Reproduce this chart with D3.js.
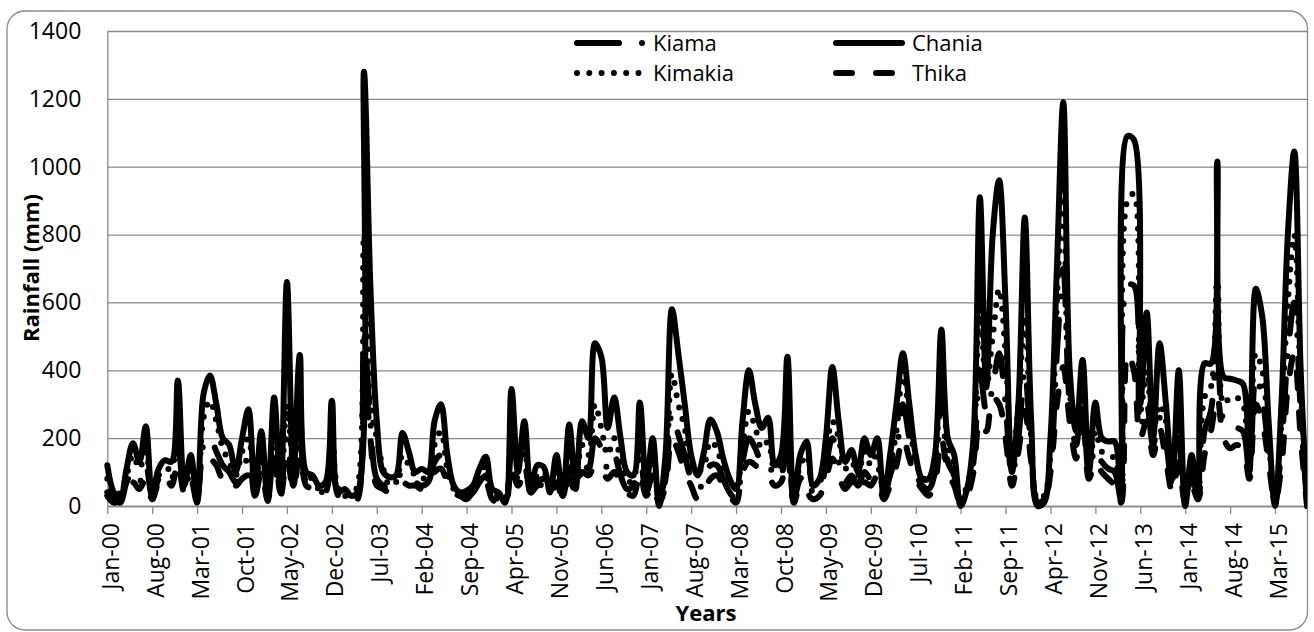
<!DOCTYPE html>
<html>
<head>
<meta charset="utf-8">
<script src="https://cdn.jsdelivr.net/npm/d3@7"></script>
<style>
  body { margin: 0; background: #fff; }
  svg text { font-family: "Open Sans", sans-serif; fill: #000; }
</style>
</head>
<body>
<div id="chart"></div>
<script>
// monthly rainfall (mm), Jan-00 .. Aug-15
const kiama = [
  40, 20, 10, 70, 100, 70, 120, 30, 80, 100, 80, 180,
  50, 100, 20, 180, 200, 160, 120, 100, 70, 110, 140, 30,
  130, 20, 170, 40, 200, 60, 220, 70, 60, 40, 50, 150,
  30, 30, 20, 30, 500, 250, 80, 60, 50, 70, 100, 80,
  70, 60, 70, 130, 150, 90, 40, 30, 30, 40, 70, 90,
  30, 20, 10, 160, 80, 120, 40, 70, 80, 40, 90, 30,
  110, 60, 130, 110, 200, 170, 110, 150, 90, 50, 60, 150,
  40, 90, 10, 80, 270, 210, 150, 80, 50, 70, 120, 120,
  80, 40, 20, 130, 200, 170, 130, 130, 80, 90, 220, 20,
  80, 90, 40, 50, 120, 200, 130, 70, 90, 60, 100, 80,
  120, 30, 90, 160, 300, 200, 100, 60, 50, 100, 330, 130,
  90, 10, 40, 130, 400, 280, 350, 450, 300, 90, 200, 400,
  160, 10, 20, 120, 450, 700, 300, 180, 330, 100, 170, 130,
  110, 100, 20, 650, 650, 230, 300, 180, 260, 190, 60, 200,
  10, 90, 30, 220, 280, 450, 250, 230, 230, 220, 100, 380,
  320, 160, 10, 180, 450, 600, 280, 0
];
const chania = [
  120, 40, 20, 110, 185, 130, 235, 30, 110, 135, 130, 370,
  60, 150, 10, 330, 385, 300, 200, 180, 100, 200, 285, 40,
  220, 15, 320, 50, 660, 90, 445, 100, 90, 60, 70, 310,
  40, 50, 30, 40, 1280, 650, 250, 100, 85, 90, 215, 160,
  100, 110, 100, 250, 300, 150, 60, 40, 45, 60, 110, 145,
  50, 40, 10, 345, 100, 250, 50, 120, 115, 40, 150, 30,
  240, 50, 250, 200, 480, 440, 230, 320, 200, 100, 90, 305,
  60, 200, 0, 150, 580, 450, 300, 150, 90, 160, 255, 220,
  140, 80, 50, 250, 400, 300, 230, 260, 120, 150, 440, 10,
  150, 190, 60, 80, 200, 410, 250, 130, 165, 100, 200, 150,
  200, 30, 150, 300, 450, 300, 150, 80, 80, 150, 520, 200,
  150, 0, 50, 200, 910, 350, 800, 960, 600, 100, 300, 850,
  250, 0, 10, 200, 700, 1190, 400, 220, 430, 100, 305, 200,
  190, 190, 10, 1090, 1080, 300, 570, 200, 480, 300, 80, 400,
  0, 150, 20, 420, 420, 1015, 380, 375, 370, 360, 100, 640,
  560, 250, 0, 300, 800, 1045, 400, 0
];
const kimakia = [
  80, 30, 40, 90, 150, 110, 160, 40, 90, 110, 110, 300,
  70, 120, 20, 260, 310, 250, 170, 130, 90, 160, 200, 50,
  170, 30, 250, 40, 300, 120, 280, 90, 80, 50, 60, 240,
  50, 40, 30, 60, 800, 300, 200, 110, 60, 70, 150, 120,
  90, 80, 90, 180, 220, 110, 50, 40, 30, 50, 90, 120,
  40, 30, 20, 200, 120, 160, 60, 90, 100, 60, 120, 40,
  150, 80, 180, 150, 300, 230, 150, 200, 140, 70, 80, 210,
  60, 140, 20, 100, 390, 300, 230, 110, 100, 120, 190, 170,
  100, 70, 60, 170, 280, 230, 170, 190, 110, 120, 300, 40,
  120, 150, 60, 70, 160, 250, 200, 110, 130, 90, 160, 120,
  160, 40, 120, 220, 400, 260, 130, 90, 70, 130, 450, 180,
  120, 20, 60, 180, 600, 350, 500, 640, 450, 130, 300, 560,
  200, 20, 30, 150, 600, 950, 330, 250, 300, 120, 220, 160,
  150, 140, 30, 900, 920, 280, 400, 220, 300, 250, 100, 300,
  20, 130, 40, 320, 350, 680, 300, 320, 320, 300, 130, 450,
  400, 200, 20, 250, 600, 800, 350, 10
];
const thika = [
  30, 10, 20, 60, 70, 50, 80, 20, 70, 90, 60, 130,
  40, 80, 10, 150, 140, 120, 80, 90, 60, 80, 90, 30,
  100, 20, 120, 30, 140, 50, 150, 60, 50, 30, 40, 120,
  30, 20, 10, 20, 400, 200, 60, 50, 40, 60, 70, 60,
  60, 50, 60, 100, 110, 70, 40, 30, 20, 40, 50, 70,
  20, 10, 0, 120, 60, 90, 40, 60, 60, 30, 70, 20,
  80, 40, 100, 90, 120, 110, 80, 100, 70, 40, 30, 100,
  30, 60, 10, 60, 200, 160, 100, 60, 20, 40, 80, 90,
  60, 30, 10, 100, 130, 120, 100, 90, 60, 70, 150, 10,
  60, 40, 20, 30, 80, 140, 90, 50, 70, 40, 70, 60,
  90, 20, 60, 120, 200, 140, 80, 50, 30, 70, 200, 100,
  60, 10, 30, 100, 250, 220, 320, 300, 200, 60, 160, 280,
  130, 10, 10, 100, 300, 410, 250, 140, 280, 80, 130, 100,
  80, 60, 10, 450, 400, 200, 250, 150, 230, 135, 40, 130,
  10, 60, 20, 150, 220, 320, 200, 170, 180, 170, 80, 300,
  250, 130, 10, 120, 350, 450, 200, 0
];

const tickLabels = ["Jan-00", "Aug-00", "Mar-01", "Oct-01", "May-02", "Dec-02", "Jul-03",
  "Feb-04", "Sep-04", "Apr-05", "Nov-05", "Jun-06", "Jan-07", "Aug-07", "Mar-08",
  "Oct-08", "May-09", "Dec-09", "Jul-10", "Feb-11", "Sep-11", "Apr-12", "Nov-12",
  "Jun-13", "Jan-14", "Aug-14", "Mar-15"];
const yTicks = [0, 200, 400, 600, 800, 1000, 1200, 1400];

const monthNames = ["Jan", "Feb", "Mar", "Apr", "May", "Jun", "Jul", "Aug", "Sep", "Oct", "Nov", "Dec"];
const categories = chania.map((d, i) =>
  monthNames[i % 12] + "-" + String(Math.floor(i / 12)).padStart(2, "0"));

const series = [
  { name: "Kiama", values: kiama, dash: "42,23,0,23" },
  { name: "Chania", values: chania, dash: null },
  { name: "Kimakia", values: kimakia, dash: "0,12.3" },
  { name: "Thika", values: thika, dash: "16,24" }
];

const W = 1314, H = 632;
const plotLeft = 107.3, plotRight = 1307.1, plotTop = 31, plotBottom = 506;
const grey = "#898989";
const lineW = 6;

const svg = d3.select("#chart").append("svg")
  .attr("width", W).attr("height", H);

// chart border
svg.append("rect")
  .attr("x", 7).attr("y", 11)
  .attr("width", 1300.5).attr("height", 619)
  .attr("rx", 18).attr("ry", 18)
  .attr("fill", "#fff")
  .attr("stroke", grey).attr("stroke-width", 1.3);

const x = d3.scalePoint().domain(categories).range([plotLeft, plotRight]);
const y = d3.scaleLinear().domain([0, 1400]).range([plotBottom, plotTop]);

// y axis + gridlines
const yAxis = svg.append("g")
  .attr("transform", `translate(${plotLeft},0)`)
  .call(d3.axisLeft(y).tickValues(yTicks).tickFormat(d3.format("d"))
    .tickSizeInner(-(plotRight - plotLeft)).tickSizeOuter(0).tickPadding(26));
yAxis.select(".domain").attr("stroke", grey).attr("stroke-width", 1.3);
yAxis.selectAll(".tick line").attr("stroke", grey).attr("stroke-width", 1.3);
yAxis.selectAll(".tick text").style("font-size", "23px").attr("fill", "#000");

// x axis
const xAxis = svg.append("g")
  .attr("transform", `translate(0,${plotBottom})`)
  .call(d3.axisBottom(x).tickValues(tickLabels).tickSizeInner(8).tickSizeOuter(0));
xAxis.select(".domain").attr("stroke", grey).attr("stroke-width", 1.3);
xAxis.selectAll(".tick line").attr("stroke", grey).attr("stroke-width", 1.3);
xAxis.selectAll(".tick text")
  .style("font-size", "23px")
  .attr("fill", "#000")
  .attr("text-anchor", "end")
  .attr("transform", "rotate(-90)")
  .attr("x", -17).attr("y", 0).attr("dy", "0.48em");

// series lines
const line = d3.line()
  .x((d, i) => x(categories[i]))
  .y(d => y(d))
  .curve(d3.curveCatmullRom.alpha(0.5));

svg.append("defs").append("clipPath").attr("id", "plotClip")
  .append("rect").attr("x", plotLeft - 4).attr("y", plotTop - 4)
  .attr("width", plotRight - plotLeft + 4).attr("height", plotBottom - plotTop + 8);

const lines = svg.append("g").attr("clip-path", "url(#plotClip)");
series.forEach(s => {
  lines.append("path")
    .datum(s.values)
    .attr("d", line)
    .attr("fill", "none")
    .attr("stroke", "#000")
    .attr("stroke-width", lineW)
    .attr("stroke-linecap", "round")
    .attr("stroke-linejoin", "round")
    .attr("stroke-dasharray", s.dash);
});

// legend
const legendPos = [[574, 43], [833, 43], [574, 73], [833, 73]];
series.forEach((s, i) => {
  const [lx, ly] = legendPos[i];
  svg.append("line")
    .attr("x1", lx + 3).attr("x2", lx + 69)
    .attr("y1", ly).attr("y2", ly)
    .attr("stroke", "#000").attr("stroke-width", lineW)
    .attr("stroke-linecap", "round")
    .attr("stroke-dasharray", s.dash);
  svg.append("text")
    .attr("x", lx + 79).attr("y", ly)
    .attr("dy", "0.36em")
    .style("font-size", "22px")
    .text(s.name);
});

// axis titles
svg.append("text")
  .attr("transform", "translate(39,268) rotate(-90)")
  .attr("text-anchor", "middle")
  .style("font-size", "22px").style("font-weight", "bold")
  .text("Rainfall (mm)");

svg.append("text")
  .attr("x", 706).attr("y", 621)
  .attr("text-anchor", "middle")
  .style("font-size", "22px").style("font-weight", "bold")
  .text("Years");
</script>
</body>
</html>
